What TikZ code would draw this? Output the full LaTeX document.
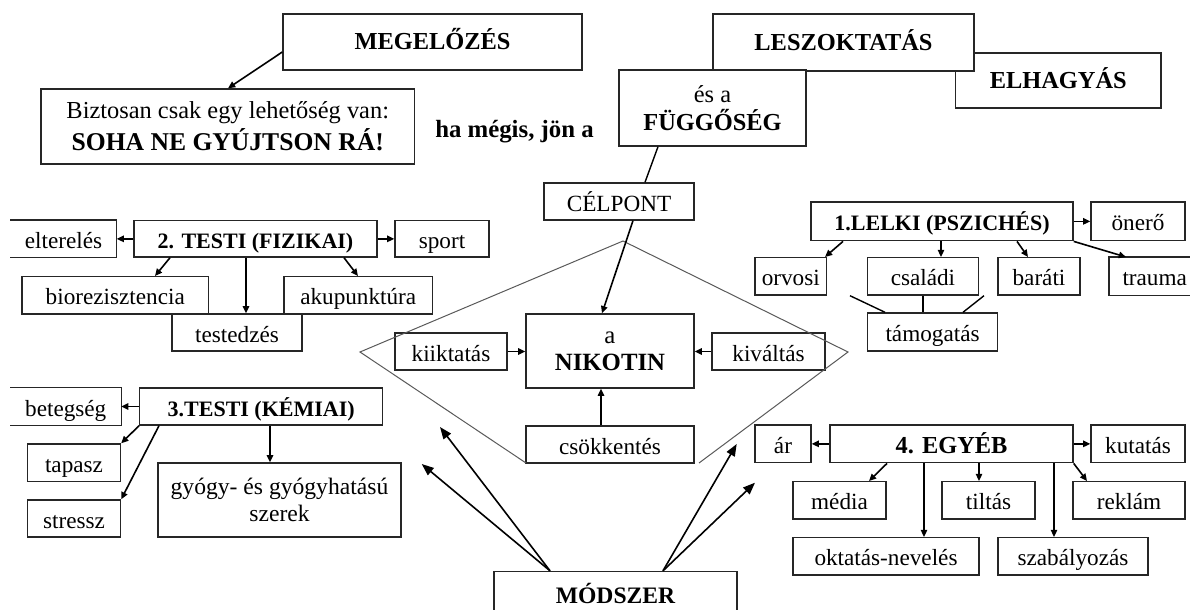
\documentclass[tikz,border=0pt]{standalone}
\usepackage{fontspec}
\setmainfont{Liberation Serif}
\usetikzlibrary{arrows.meta}

\tikzset{
 base/.style={draw=black!85, line width=0.7pt, fill=white, inner sep=1pt, align=center, font=\fontsize{11.6}{13.5}\selectfont},
 box/.style={base, text height=2.4ex, text depth=0.3ex},
 openbox/.style={box, draw=none},
 side/.style={draw=black!85, line width=0.7pt},
 big/.style={base, text depth=0.6ex, font=\fontsize{12.2}{14}\selectfont\bfseries},
 head/.style={font=\fontsize{11}{12}\selectfont\bfseries},
 arr/.style={-{Triangle[length=3.6pt,width=3.2pt]}, line width=0.8pt},
 bigarr/.style={-{Triangle[length=6pt,width=4.6pt]}, line width=0.8pt},
 ln/.style={line width=0.7pt},
 rim/.style={draw=black!65, line width=0.5pt},
}

\begin{document}
\begin{tikzpicture}[x=0.5pt, y=-0.5pt]
 \useasboundingbox (0,0) rectangle (1190,610);

 % top row
 \node[big, minimum width=149.5pt, minimum height=28pt] (meg) at (432.5,42) {MEGELŐZÉS};
 \node[base, minimum width=186.75pt, minimum height=37.5pt, font=\fontsize{12.2}{16}\selectfont] (bizt) at (227.75,126.5) {Biztosan csak egy lehetőség van:\\{\fontsize{12.8}{16}\selectfont\bfseries SOHA NE GYÚJTSON RÁ!}};
 \node[font=\fontsize{12.4}{14}\selectfont\bfseries] (hamegis) at (514.5,132) {ha mégis, jön a};
 \node[big, minimum width=102.75pt, minimum height=27.5pt] (elh) at (1058.25,80.5) {ELHAGYÁS};
 \node[big, minimum width=130.5pt, minimum height=28.5pt] (lesz) at (843.5,42.5) {LESZOKTATÁS};
 \node[base, minimum width=93.5pt, minimum height=38pt, font=\fontsize{12.2}{14}\selectfont] (fugg) at (712.5,108) {és a\\{\bfseries FÜGGŐSÉG}};

 % centre
 \node[box, minimum width=75pt, minimum height=18.5pt] (celp) at (619,201.5) {CÉLPONT};
 \node[base, minimum width=84pt, minimum height=37pt, font=\fontsize{12.4}{13.5}\selectfont] (nik) at (610,351) {a\\{\bfseries NIKOTIN}};
 \node[box, minimum width=56pt, minimum height=18.5pt] (kiik) at (451,351.5) {kiiktatás};
 \node[box, minimum width=56.5pt, minimum height=18.5pt] (kival) at (768.5,351.5) {kiváltás};
 \node[box, minimum width=84pt, minimum height=18.5pt] (csok) at (610,444.5) {csökkentés};
 \node[box, minimum width=121.5pt, minimum height=22.5pt, font=\fontsize{11.8}{13}\selectfont\bfseries] (modsz) at (615.5,594) {MÓDSZER};

 % 2. testi
 \node[box, head, minimum width=121.5pt, minimum height=18.15pt] (testi2) at (255.5,238.85) {2. TESTI (FIZIKAI)};
 \node[openbox, minimum width=52.5pt, minimum height=18.15pt] (elt) at (63.5,238.85) {elterelés};
 \node[box, minimum width=47pt, minimum height=18.15pt] (sport) at (442,238.85) {sport};
 \node[box, minimum width=93.3pt, minimum height=18.65pt] (bio) at (115.3,295.35) {biorezisztencia};
 \node[box, minimum width=74.25pt, minimum height=18.65pt] (aku) at (358.25,295.35) {akupunktúra};
 \node[box, minimum width=65pt, minimum height=18.5pt] (tested) at (237,332.5) {testedzés};

 % 1. lelki
 \node[box, head, minimum width=131pt, minimum height=19.35pt] (lelki) at (942,221.35) {1.LELKI (PSZICHÉS)};
 \node[box, minimum width=47pt, minimum height=19.35pt] (oner) at (1138,221.35) {önerő};
 \node[box, minimum width=35.75pt, minimum height=18.65pt] (orv) at (790.75,276.35) {orvosi};
 \node[box, minimum width=55.45pt, minimum height=18.65pt] (csal) at (922.95,276.35) {családi};
 \node[box, minimum width=41pt, minimum height=18.65pt] (bar) at (1039,276.35) {baráti};
 \node[openbox, minimum width=45pt, minimum height=18.65pt] (trauma) at (1154.7,276.35) {trauma};
 \node[box, minimum width=65.05pt, minimum height=19pt] (tamog) at (932.55,332) {támogatás};

 % 3. testi
 \node[box, head, minimum width=121.5pt, minimum height=18.5pt] (testi3) at (261.2,406.5) {3.TESTI (KÉMIAI)};
 \node[openbox, minimum width=54.75pt, minimum height=18.5pt] (beteg) at (65.75,406.5) {betegség};
 \node[box, minimum width=46.5pt, minimum height=18.85pt] (tapasz) at (74,462.85) {tapasz};
 \node[box, minimum width=46.5pt, minimum height=18.5pt] (stressz) at (74,518.5) {stressz};
 \node[base, minimum width=121.5pt, minimum height=37pt, font=\fontsize{11.8}{13.5}\selectfont] (gyogy) at (279.5,500) {gyógy- és gyógyhatású\\szerek};

 % 4. egyeb
 \node[box, font=\fontsize{12.2}{14}\selectfont\bfseries, minimum width=121.5pt, minimum height=18.85pt] (egyeb) at (951.5,443.85) {4. EGYÉB};
 \node[box, minimum width=28pt, minimum height=18.85pt] (ar) at (783,443.85) {ár};
 \node[box, minimum width=47pt, minimum height=18.85pt] (kutat) at (1138,443.85) {kutatás};
 \node[box, minimum width=46.5pt, minimum height=18.65pt] (media) at (839.5,500.35) {média};
 \node[box, minimum width=46.5pt, minimum height=18.65pt] (tiltas) at (988.5,500.35) {tiltás};
 \node[box, minimum width=56pt, minimum height=18.65pt] (reklam) at (1129,500.35) {reklám};
 \node[box, minimum width=93pt, minimum height=18.65pt] (oktat) at (886,556.35) {oktatás-nevelés};
 \node[box, minimum width=75pt, minimum height=18.65pt] (szab) at (1073,556.35) {szabályozás};

 % open sides
 \draw[side] (elt.north west) -- (elt.north east) -- (elt.south east) -- (elt.south west);
 \draw[side] (beteg.north west) -- (beteg.north east) -- (beteg.south east) -- (beteg.south west);
 \draw[side] (trauma.north east) -- (trauma.north west) -- (trauma.south west) -- (trauma.south east);

 % rhomb round the centre
 \draw[rim] (699,463) -- (848,352) -- (623,241) -- (360,352) -- (526,463);

 % connectors
 \draw[arr] (meg.west |- 0,52) -- (bizt.north -| 228,0);
 \draw[ln] (fugg.south -| 658,0) -- (celp.north -| 645,0);
 \draw[arr] (celp.south -| 633,0) -- (nik.north -| 602,0);
 \draw[arr] (kiik.east) -- (kiik.east -| nik.west);
 \draw[arr] (kival.west) -- (kival.west -| nik.east);
 \draw[arr] (csok.north -| 601,0) -- (nik.south -| 601,0);

 \coordinate (m1) at (421.7,464);
 \coordinate (m2) at (440,427);
 \coordinate (m3) at (736.7,444);
 \coordinate (m4) at (755,482.7);
 \draw[bigarr] (modsz.north -| 550,0) -- (m1);
 \draw[bigarr] (modsz.north -| 550,0) -- (m2);
 \draw[bigarr] (modsz.north -| 663,0) -- (m3);
 \draw[bigarr] (modsz.north -| 663,0) -- (m4);

 \draw[arr] (testi2.west) -- (elt.east);
 \draw[arr] (testi2.east) -- (sport.west);
 \draw[arr] (testi2.south -| 170,0) -- (bio.north -| 155,0);
 \draw[arr] (testi2.south -| 246,0) -- (tested.north -| 246,0);
 \draw[arr] (testi2.south -| 344,0) -- (aku.north -| 358,0);

 \draw[arr] (lelki.east) -- (oner.west);
 \draw[arr] (lelki.south -| 843,0) -- (orv.north -| 825,0);
 \draw[arr] (lelki.south -| 941,0) -- (csal.north -| 941,0);
 \draw[arr] (lelki.south -| 1017,0) -- (bar.north -| 1028,0);
 \draw[arr] (lelki.south east) -- (trauma.north -| 1126,0);
 \draw[ln] (orv.south -| 850,0) -- (tamog.north -| 885,0);
 \draw[ln] (csal.south -| 923,0) -- (tamog.north -| 923,0);
 \draw[ln] (bar.south -| 984,0) -- (tamog.north -| 963,0);

 \draw[arr] (testi3.west) -- (beteg.east);
 \draw[arr] (testi3.south west) -- (tapasz.north east);
 \draw[arr] (testi3.south -| 159,0) -- (stressz.north east);
 \draw[arr] (testi3.south -| 270,0) -- (gyogy.north -| 270,0);

 \draw[arr] (egyeb.west) -- (ar.east);
 \draw[arr] (egyeb.east) -- (kutat.west);
 \draw[arr] (egyeb.south -| 887,0) -- (media.north -| 869,0);
 \draw[arr] (egyeb.south -| 979,0) -- (tiltas.north -| 979,0);
 \draw[arr] (egyeb.south east) -- (reklam.north -| 1087,0);
 \draw[arr] (egyeb.south -| 924,0) -- (oktat.north -| 924,0);
 \draw[arr] (egyeb.south -| 1054,0) -- (szab.north -| 1054,0);

\end{tikzpicture}
\end{document}
